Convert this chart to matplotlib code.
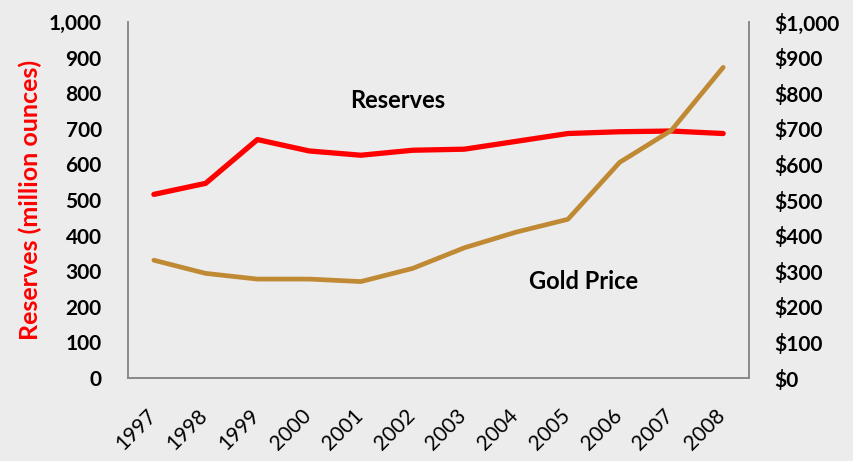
import matplotlib.pyplot as plt
from matplotlib.ticker import FuncFormatter
from matplotlib.transforms import ScaledTranslation

years = ['1997', '1998', '1999', '2000', '2001', '2002',
         '2003', '2004', '2005', '2006', '2007', '2008']
reserves = [516, 547, 670, 638, 626, 640, 643, 665, 687, 692, 694, 687]
gold_price = [331, 294, 278, 278, 271, 308, 366, 410, 446, 606, 696, 873]

bg = '#ececec'
spine_col = '#898989'
red = '#ff0000'
gold = '#c08a35'

plt.rcParams['font.family'] = ['Lato', 'DejaVu Sans']

fig = plt.figure(figsize=(8.54, 4.61), dpi=100, facecolor=bg)
ax = fig.add_axes([0.1499, 0.180, 0.7272, 0.772])
ax.set_facecolor(bg)
ax2 = ax.twinx()

x = range(len(years))
ax.plot(x, reserves, color=red, lw=3.8, solid_capstyle='round', zorder=3)
ax2.plot(x, gold_price, color=gold, lw=3.4, solid_capstyle='round', zorder=2)

ax.set_xlim(-0.5, len(years) - 0.5)
ax.set_ylim(0, 1000)
ax2.set_ylim(0, 1000)
ax.set_yticks(range(0, 1001, 100))
ax2.set_yticks(range(0, 1001, 100))
ax.yaxis.set_major_formatter(FuncFormatter(lambda v, p: f'{int(v):,}'))
ax2.yaxis.set_major_formatter(FuncFormatter(lambda v, p: f'${int(v):,}'))

# rotated year labels, nudged left so their ends sit just before each tick
ax.set_xticks(list(x))
ax.set_xticklabels(years, rotation=45, ha='right', va='top',
                   rotation_mode='anchor', fontsize=15)
ax.tick_params(axis='x', length=0, pad=20)
shift = ScaledTranslation(-0.08, 0, fig.dpi_scale_trans)
for lbl in ax.get_xticklabels():
    lbl.set_transform(lbl.get_transform() + shift)
ax.tick_params(axis='y', length=0, pad=19, labelsize=15)
ax2.tick_params(axis='y', length=0, pad=18, labelsize=15)
for lbl in ax.get_yticklabels() + ax2.get_yticklabels():
    lbl.set_fontweight('bold')

for a in (ax, ax2):
    a.spines['top'].set_visible(False)
    for s in ('left', 'right', 'bottom'):
        a.spines[s].set_color(spine_col)
        a.spines[s].set_linewidth(1.2)

ax.set_ylabel('Reserves (million ounces)', color=red, fontsize=18,
              fontweight='bold', labelpad=5)

ax.text(4.72, 780, 'Reserves', fontsize=17, fontweight='bold',
        ha='center', va='center')
ax2.text(8.3, 272, 'Gold Price', fontsize=17, fontweight='bold',
         ha='center', va='center')

fig.savefig('out.png', dpi=100, facecolor=bg)
